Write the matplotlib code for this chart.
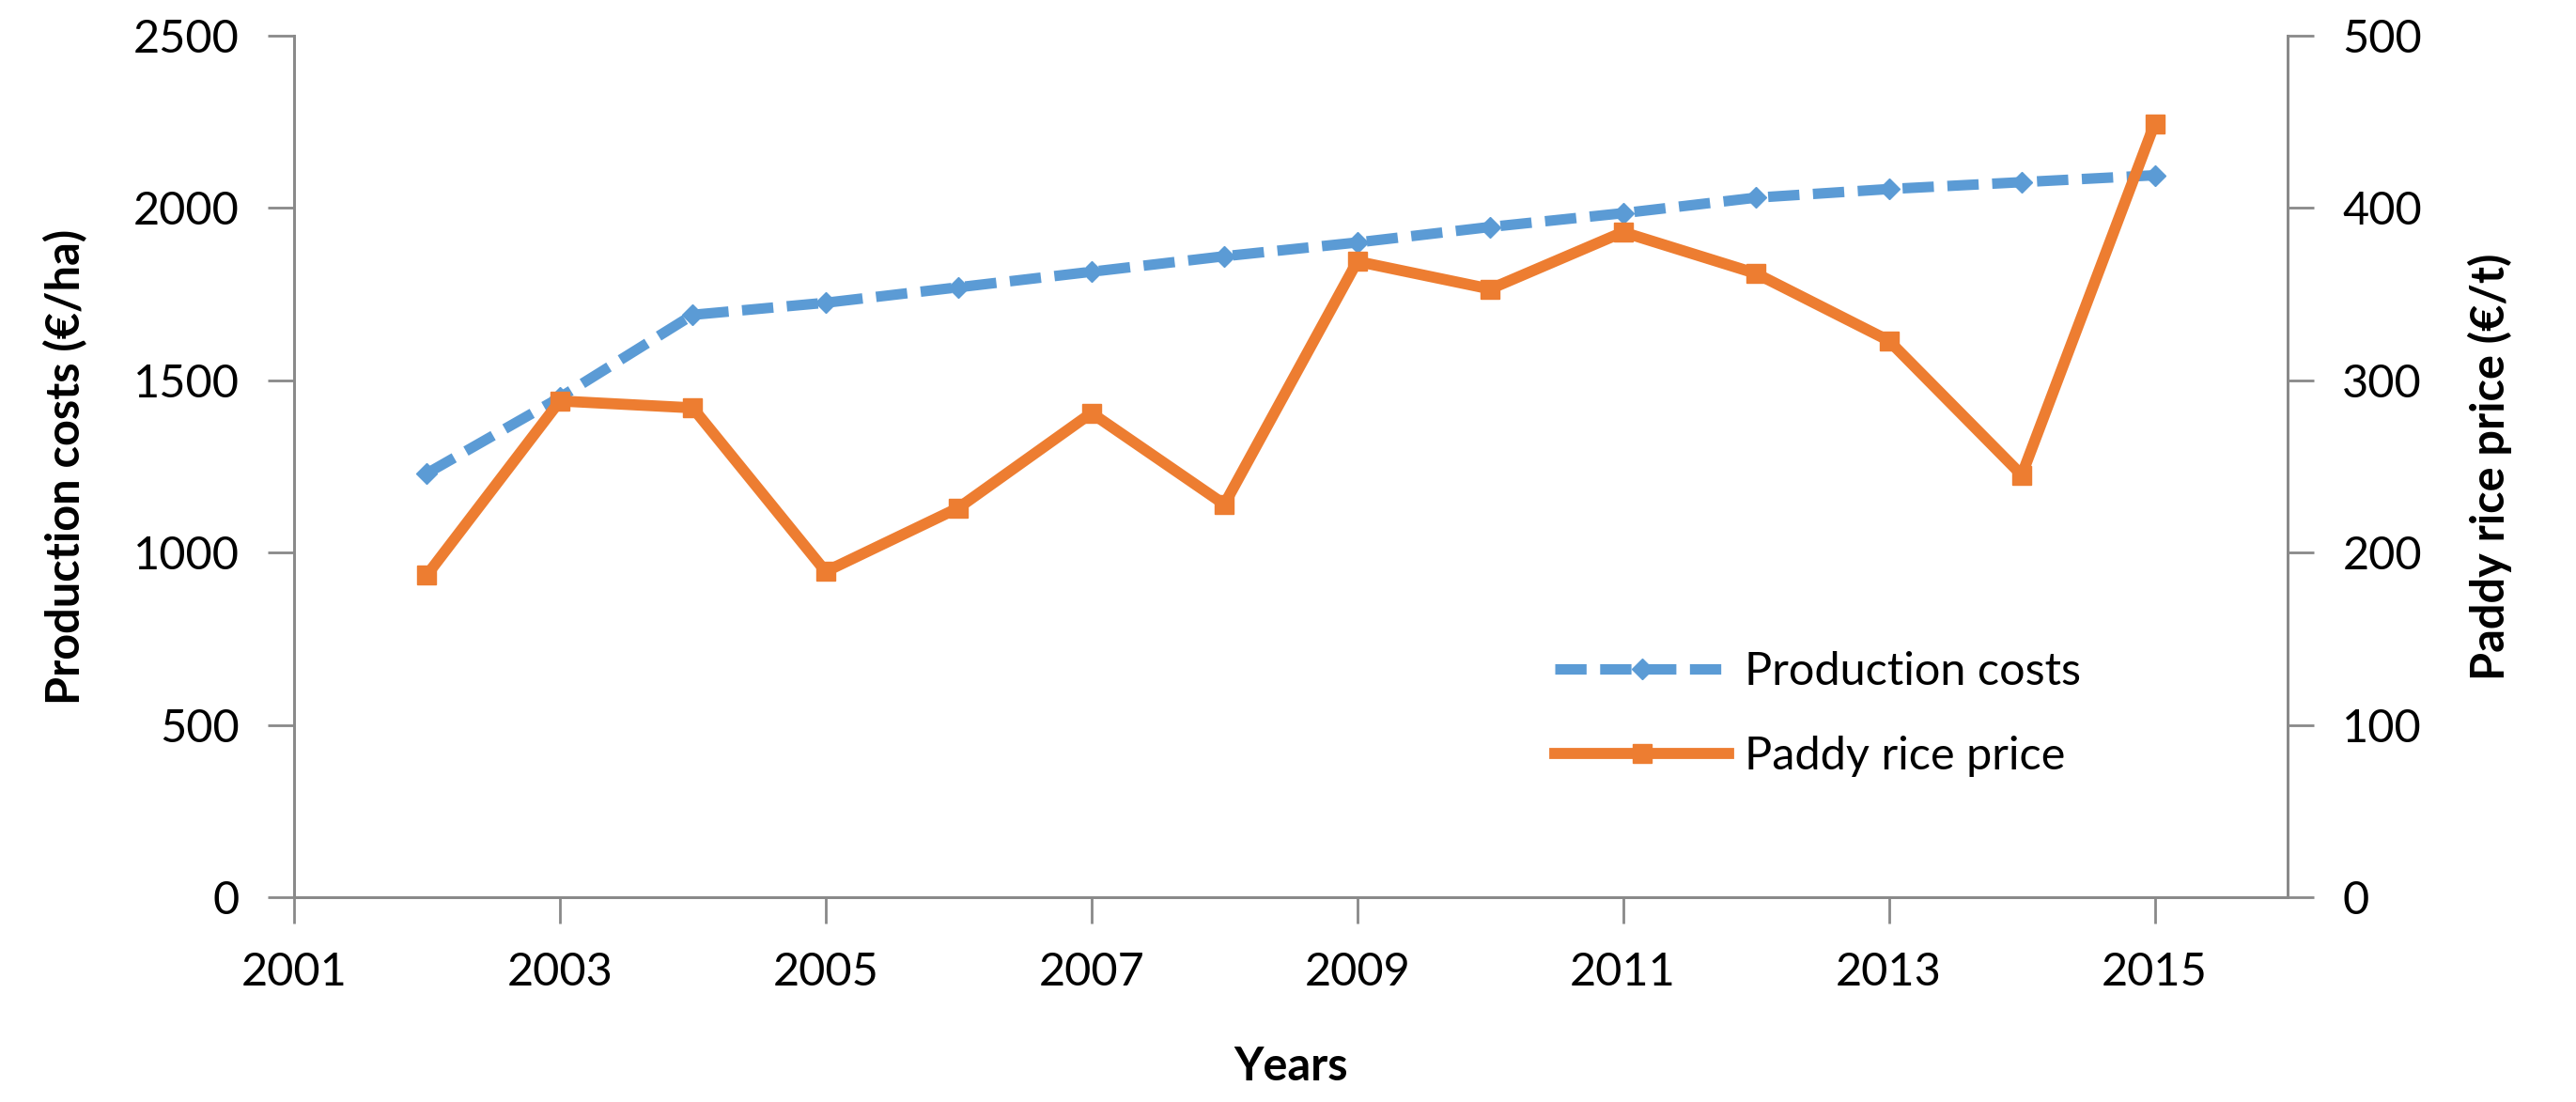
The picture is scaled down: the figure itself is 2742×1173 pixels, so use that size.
import matplotlib
matplotlib.use('Agg')
import matplotlib.pyplot as plt

plt.rcParams['font.family'] = ['Lato', 'DejaVu Sans']

# data
years = [2002, 2003, 2004, 2005, 2006, 2007, 2008, 2009, 2010, 2011, 2012, 2013, 2014, 2015]
production_costs = [1230, 1450, 1690, 1725, 1770, 1815, 1860, 1900, 1945, 1985, 2030, 2055, 2075, 2095]
rice_price = [187, 288, 284, 189, 226, 281, 228, 369, 353, 386, 362, 323, 245, 449]
x_ticks = [2001, 2003, 2005, 2007, 2009, 2011, 2013, 2015]
left_ticks = [0, 500, 1000, 1500, 2000, 2500]
right_ticks = [0, 100, 200, 300, 400, 500]

blue = '#5B9BD5'
orange = '#ED7D31'
grey = '#898989'

fig = plt.figure(figsize=(27.42, 11.73), dpi=100)
ax = fig.add_axes([313 / 2742, 1 - 955 / 1173, (2435 - 313) / 2742, (955 - 38) / 1173])
ax2 = ax.twinx()

l1, = ax.plot(years, production_costs, color=blue, lw=8, dashes=(3, 1.3),
              marker='D', ms=11, label='Production costs', zorder=3)
l2, = ax2.plot(years, rice_price, color=orange, lw=8.5, marker='s', ms=14,
               label='Paddy rice price', zorder=3)

ax.set_xlim(2001, 2016)
ax.set_ylim(0, 2500)
ax2.set_ylim(0, 500)
ax.set_xticks(x_ticks)
ax.set_yticks(left_ticks)
ax2.set_yticks(right_ticks)

for a in (ax, ax2):
    for s in a.spines.values():
        s.set_color(grey)
        s.set_linewidth(2)
    a.spines['top'].set_visible(False)
    a.tick_params(colors=grey, labelcolor='black', labelsize=35, length=20, width=2, pad=22)

ax.set_xlabel('Years', fontsize=35, fontweight='bold', labelpad=40)
ax.set_ylabel('Production costs (€/ha)', fontsize=35, fontweight='bold', labelpad=35)
ax2.set_ylabel('Paddy rice price (€/t)', fontsize=35, fontweight='bold', labelpad=35)

ax.legend([l1, l2], ['Production costs', 'Paddy rice price'], loc='center left',
          bbox_to_anchor=(0.612, 0.213), frameon=False, fontsize=35,
          handlelength=3.8, handletextpad=0.35, labelspacing=0.95)

fig.savefig('out.png', dpi=100)
